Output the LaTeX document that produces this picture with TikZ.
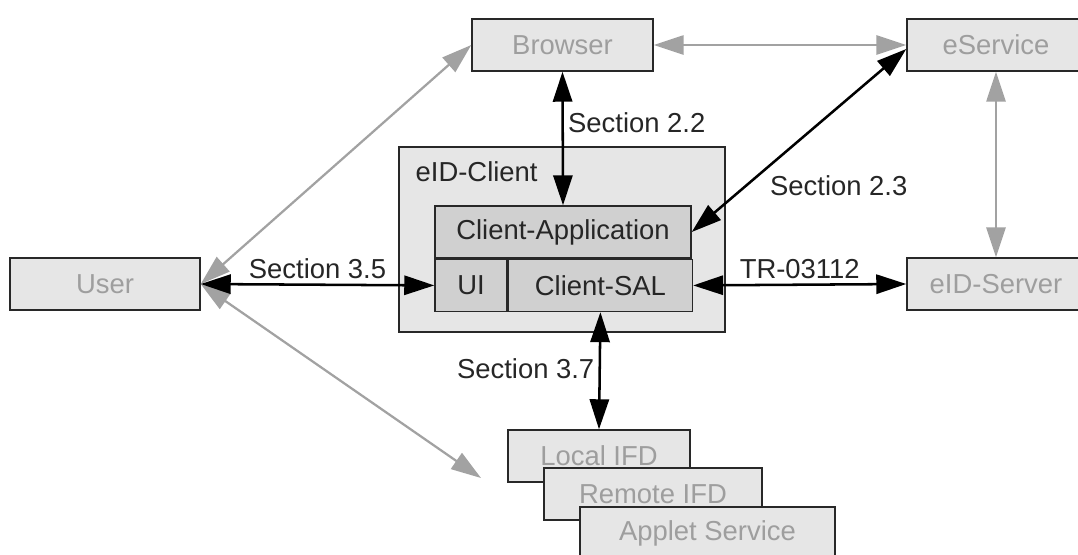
\documentclass[tikz,border=0pt]{standalone}
\usepackage{fontspec}
\setmainfont{Liberation Sans}
\usetikzlibrary{positioning,arrows.meta}
\definecolor{boxfill}{RGB}{230,230,230}
\definecolor{appfill}{RGB}{208,208,208}
\definecolor{greytxt}{RGB}{158,158,158}
\definecolor{greyline}{RGB}{162,162,162}
\definecolor{boxline}{RGB}{40,40,40}
\tikzset{
 ext/.style={draw=boxline,line width=1pt,fill=boxfill,text=greytxt,minimum height=1.3cm,inner sep=0pt},
 part/.style={draw=boxline,line width=1pt,fill=appfill,text=black!85,minimum height=1.3cm,inner sep=0pt},
 blk/.style={draw=black,line width=1.8pt,{Triangle[length=0.75cm,width=0.48cm]}-{Triangle[length=0.75cm,width=0.48cm]}},
 gry/.style={draw=greyline,line width=1.6pt,{Triangle[length=0.75cm,width=0.48cm]}-{Triangle[length=0.75cm,width=0.48cm]}},
 lbl/.style={text=black!85,inner sep=3pt}
}

\begin{document}
\begin{tikzpicture}[x=0.025cm,y=-0.025cm,font=\fontsize{19.5}{22}\selectfont]
 \clip (0,0) rectangle (1078,554);
 % outside parties
 \node[ext,minimum width=4.525cm] (Browser)   at (562.5,45) {Browser};
 \node[ext,minimum width=4.45cm]  (eService)  at (996,45)   {eService};
 \node[ext,minimum width=4.75cm]  (User)      at (105,284)  {User};
 \node[ext,minimum width=4.45cm]  (eIDServer) at (996,284)  {eID-Server};
 % eID-Client
 \node[ext,minimum width=8.15cm,minimum height=4.625cm] (eIDClient) at (562,239.5) {};
 \node[anchor=west,inner sep=1pt,text=black!85] (ClientLabel) at (414,172) {eID-Client};
 \node[part,minimum width=6.4cm] (CApp) at (563,232) {Client-Application};
 \node[part,minimum width=1.8cm] (UI)   [below right=0pt and 0pt of CApp.south west] {UI};
 \node[part,minimum width=4.6cm] (CSAL) [right=0pt of UI] {Client-SAL};
 % card side
 \node[ext,minimum width=4.55cm]  (LocalIFD)  at (599,456)   {Local IFD};
 \node[ext,minimum width=5.45cm]  (RemoteIFD) at (653,494)   {Remote IFD};
 \node[ext,minimum width=6.375cm] (Applet)    at (707.5,533) {Applet Service};
 \coordinate (IFDend) at (481,478);
\path
 (Browser.east)  edge[gry] (eService.west)
 (eService.south) edge[gry] (eIDServer.north)
 (User.east) edge[gry] (Browser.west)
 (User.east) edge[gry] (IFDend)
 (Browser.south) edge[blk] node[lbl,pos=0.38,right] {Section 2.2} (CApp.north)
 (CApp.east) edge[blk] node[lbl,pos=0.34,anchor=north west] {Section 2.3} ([yshift=-0.1cm]eService.west)
 (User.east) edge[blk] node[lbl,above] {Section 3.5} (UI.west)
 (CSAL.east) edge[blk] node[lbl,above] {TR-03112} (eIDServer.west)
 (CSAL.south) edge[blk] node[lbl,pos=0.48,left] {Section 3.7} (LocalIFD.north)
;
\end{tikzpicture}
\end{document}
